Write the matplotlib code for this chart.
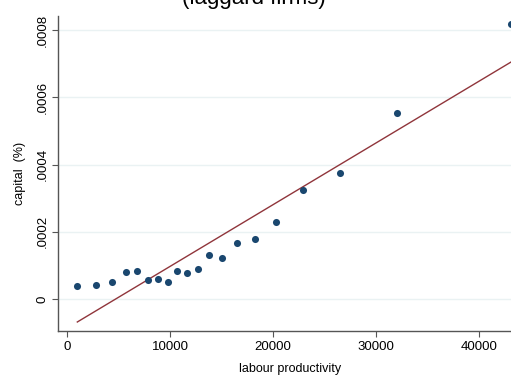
import matplotlib
matplotlib.use("Agg")
import matplotlib.pyplot as plt
import numpy as np

# Data
labour_productivity = [1000, 2842, 4394, 5694, 6819, 7827, 8797, 9767, 10698, 11668,
                       12706, 13802, 15034, 16518, 18206, 20242, 22890, 26508, 32037, 43065]
capital = [0.0000387, 0.0000426, 0.0000515, 0.0000803, 0.0000833, 0.0000574, 0.0000595,
           0.0000515, 0.0000833, 0.0000765, 0.0000904, 0.0001299, 0.0001228, 0.0001663,
           0.0001782, 0.0002288, 0.0003239, 0.0003744, 0.0005548, 0.0008186]
fit_x = [1000, 43065]
fit_y = [-0.0000684, 0.000705]

xticks = [0, 10000, 20000, 30000, 40000]
xticklabels = ["0", "10000", "20000", "30000", "40000"]
yticks = [0, 0.0002, 0.0004, 0.0006, 0.0008]
yticklabels = ["0", ".0002", ".0004", ".0006", ".0008"]

plt.rcParams['font.family'] = ['Liberation Sans', 'DejaVu Sans']

W, H = 511, 376
fig = plt.figure(figsize=(W / 100, H / 100), dpi=100)
left, right, bottom, top = 58, 511, 331, 16
ax = fig.add_axes([left / W, 1 - bottom / H, (right - left) / W, (bottom - top) / H])

ax.set_xlim(-873, 43065)
ax.set_ylim(-0.0000952, 0.000842)

for yt in yticks:
    ax.axhline(yt, color='#eaf2f3', lw=1.0, zorder=0)

ax.plot(fit_x, fit_y, color='#90353b', lw=1.0, zorder=2)
ax.scatter(labour_productivity, capital, s=26, color='#1a476f', zorder=3,
           clip_on=False, linewidths=0)

for s in ['top', 'right']:
    ax.spines[s].set_visible(False)
for s in ['left', 'bottom']:
    ax.spines[s].set_color('#555555')
    ax.spines[s].set_linewidth(1.0)

ax.set_xticks(xticks)
ax.set_xticklabels(xticklabels, fontsize=9.5)
ax.set_yticks(yticks)
ax.set_yticklabels(yticklabels, fontsize=9.5, rotation=90, va='center')
ax.tick_params(axis='both', length=4, width=0.8, color='#555555', pad=3)

ax.set_xlabel("labour productivity", fontsize=9)
ax.set_ylabel("capital  (%)", fontsize=9)
ax.xaxis.set_label_coords((290 - left) / (right - left), -(369 - bottom) / (bottom - top) - 0.0, transform=None) if False else None
fig.text(290 / W, 1 - 369 / H, "labour productivity", fontsize=9, ha='center', va='center')
ax.set_xlabel("")
fig.text(20 / W, 1 - 173 / H, "capital  (%)", fontsize=9, ha='center', va='center', rotation=90)
ax.set_ylabel("")

fig.text(254 / W, 1 - 4 / H, "(laggard firms)", fontsize=16, ha='center', va='baseline')

fig.savefig("out.png", dpi=100, facecolor='white')
